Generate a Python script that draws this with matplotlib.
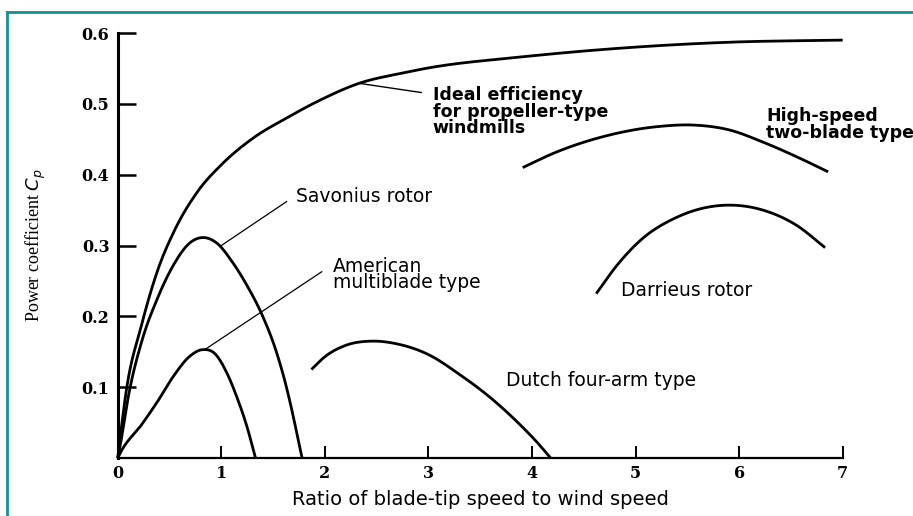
import numpy as np
import matplotlib
matplotlib.use('Agg')
import matplotlib.pyplot as plt
from matplotlib.lines import Line2D

# ----- curves (tip-speed ratio, power coefficient) -----
ideal_x = [0.0, 0.02, 0.08, 0.23, 0.385, 0.54, 0.77, 1.0, 1.31, 1.63, 1.95, 2.33, 2.73, 3.01, 3.88, 4.89, 5.9, 7.0]
ideal_cp = [0.0, 0.025, 0.093, 0.188, 0.265, 0.319, 0.376, 0.414, 0.452, 0.480, 0.505, 0.529, 0.543, 0.551, 0.566, 0.579, 0.587, 0.590]

savonius_x = [0.0, 0.02, 0.11, 0.23, 0.385, 0.54, 0.69, 0.80, 0.96, 1.1, 1.25, 1.4, 1.52, 1.62, 1.7, 1.75, 1.78]
savonius_cp = [0.0, 0.015, 0.093, 0.164, 0.226, 0.273, 0.303, 0.311, 0.303, 0.278, 0.243, 0.200, 0.155, 0.105, 0.055, 0.02, 0.0]

american_x = [0.0, 0.02, 0.23, 0.385, 0.54, 0.69, 0.82, 0.94, 1.06, 1.15, 1.25, 1.33]
american_cp = [0.0, 0.006, 0.047, 0.080, 0.116, 0.143, 0.153, 0.147, 0.118, 0.086, 0.043, 0.0]

dutch_x = [1.87, 2.0, 2.2, 2.45, 2.7, 3.0, 3.3, 3.6, 3.85, 4.05, 4.18]
dutch_cp = [0.125, 0.143, 0.159, 0.165, 0.161, 0.146, 0.118, 0.085, 0.052, 0.022, 0.0]

highspeed_x = [3.91, 4.22, 4.72, 5.22, 5.57, 5.91, 6.23, 6.56, 6.86]
highspeed_cp = [0.410, 0.431, 0.455, 0.468, 0.470, 0.463, 0.446, 0.425, 0.404]

darrieus_x = [4.62, 4.82, 5.06, 5.4, 5.9, 6.23, 6.56, 6.83]
darrieus_cp = [0.232, 0.272, 0.309, 0.340, 0.357, 0.350, 0.328, 0.297]

x_ticks = [0, 1, 2, 3, 4, 5, 6, 7]
y_ticks = [0.1, 0.2, 0.3, 0.4, 0.5, 0.6]
y_tick_labels = ['0.1', '0.2', '0.3', '0.4', '0.5', '0.6']


def spline(xs, ys, n=400):
    """Cubic Hermite through the read points (three-point slopes), for a smooth stroke."""
    x = np.asarray(xs, float)
    y = np.asarray(ys, float)
    h = np.diff(x)
    d = np.diff(y) / h
    m = np.empty_like(y)
    m[1:-1] = (h[1:] * d[:-1] + h[:-1] * d[1:]) / (h[:-1] + h[1:])
    m[0] = d[0]
    m[-1] = d[-1]
    xx = np.linspace(x[0], x[-1], n)
    idx = np.clip(np.searchsorted(x, xx) - 1, 0, len(x) - 2)
    t = (xx - x[idx]) / h[idx]
    h00 = 2 * t**3 - 3 * t**2 + 1
    h10 = t**3 - 2 * t**2 + t
    h01 = -2 * t**3 + 3 * t**2
    h11 = t**3 - t**2
    yy = h00 * y[idx] + h10 * h[idx] * m[idx] + h01 * y[idx + 1] + h11 * h[idx] * m[idx + 1]
    return xx, yy


fig = plt.figure(figsize=(9.13, 5.16), dpi=100)
ax = fig.add_axes([0.129, 0.1124, 0.794, 0.8236])

for xs, ys in [(ideal_x, ideal_cp), (savonius_x, savonius_cp), (american_x, american_cp),
               (dutch_x, dutch_cp), (highspeed_x, highspeed_cp), (darrieus_x, darrieus_cp)]:
    sx, sy = spline(xs, ys)
    ax.plot(sx, np.clip(sy, 0, None), color='black', lw=2.0, solid_capstyle='butt', clip_on=False)

# leader lines
ax.plot([2.33, 2.93], [0.529, 0.516], color='black', lw=1.0)
ax.plot([1.0, 1.63], [0.300, 0.362], color='black', lw=0.9)
ax.plot([0.84, 1.97], [0.153, 0.263], color='black', lw=0.9)

lab = dict(fontsize=13.5, fontfamily='DejaVu Sans', color='black', va='center', ha='left')
bold = dict(lab, fontsize=12.5, fontweight='bold')
ax.text(3.04, 0.489, 'Ideal efficiency\nfor propeller-type\nwindmills', linespacing=0.88, **bold)
ax.text(1.72, 0.369, 'Savonius rotor', **lab)
ax.text(2.08, 0.259, 'American\nmultiblade type', linespacing=0.85, **lab)
ax.text(3.75, 0.110, 'Dutch four-arm type', **lab)
ax.text(4.86, 0.236, 'Darrieus rotor', **lab)
ax.text(6.26, 0.471, 'High-speed\ntwo-blade type', linespacing=0.95, clip_on=False, **bold)

ax.set_xlim(0, 7)
ax.set_ylim(0, 0.6)
ax.set_xticks(x_ticks)
ax.set_xticklabels([str(v) for v in x_ticks], fontfamily='DejaVu Serif', fontweight='bold', fontsize=11.5)
ax.set_yticks(y_ticks)
ax.set_yticklabels(y_tick_labels, fontfamily='DejaVu Serif', fontweight='bold', fontsize=11.5)

ax.spines['top'].set_visible(False)
ax.spines['right'].set_visible(False)
ax.spines['left'].set_linewidth(2.2)
ax.spines['bottom'].set_linewidth(1.6)
ax.tick_params(axis='y', direction='in', length=13, width=1.8, pad=6)
ax.tick_params(axis='x', direction='in', length=9, width=1.4, pad=5)

ax.set_xlabel('Ratio of blade-tip speed to wind speed', fontsize=14, fontfamily='DejaVu Sans', labelpad=6)
ax.set_ylabel('Power coefficient $C_p$', fontsize=13, fontfamily='Liberation Serif', labelpad=24)

# teal frame (top and left edges visible)
teal = '#17908f'
fig.add_artist(Line2D([7 / 913, 7 / 913], [0, 1 - 12 / 516], color=teal, lw=2, transform=fig.transFigure))
fig.add_artist(Line2D([7 / 913, 1], [1 - 12 / 516, 1 - 12 / 516], color=teal, lw=2, transform=fig.transFigure))

plt.savefig('out.png', dpi=100)
